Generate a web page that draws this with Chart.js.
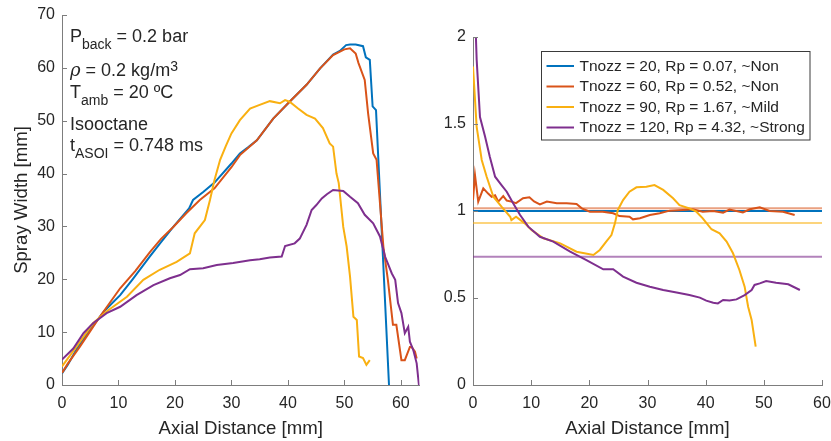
<!DOCTYPE html>
<html><head><meta charset="utf-8">
<script src="https://cdn.jsdelivr.net/npm/chart.js@4.4.0/dist/chart.umd.min.js"></script>
<style>
html,body{margin:0;padding:0;background:#fff;width:831px;height:441px;overflow:hidden}
#c1{position:absolute;left:0;top:0}
#c2{position:absolute;left:430px;top:0}
</style></head><body>
<canvas id="c1" width="430" height="441"></canvas>
<canvas id="c2" width="401" height="441"></canvas>
<script>
// ---------- DATA ----------
const seriesNames = ['Tnozz = 20, Rp = 0.07, ~Non','Tnozz = 60, Rp = 0.52, ~Non','Tnozz = 90, Rp = 1.67, ~Mild','Tnozz = 120, Rp = 4.32, ~Strong'];
const xTicks = [0,10,20,30,40,50,60];
const leftYTicks = [0,10,20,30,40,50,60,70];
const rightYTicks = [0,0.5,1,1.5,2];

// Left: spray width [mm] vs axial distance [mm]
const wBlueX = [0,1,2.6,5,7.5,10.3,12.5,15.6,17.5,19.7,22.5,23.2,25,27,30,31.5,33,34.5,37.4,40.3,43.3,45.7,48,49.2,50.3,51,52,53.3,53.8,54.5,55.0,55.6,57.9];
const wBlueY = [2.2,3.8,6.8,10.5,14,17.0,20,24.4,27,29.9,33.4,35,36.5,38.3,41.9,43.8,45.0,46.3,50.4,53.6,56.8,59.9,62.5,63.2,64.3,64.4,64.4,64.1,62.0,61.5,52.7,52.0,0];
const wOrangeX = [0,1,3.2,5,6.7,8.5,10.3,13,15.6,17.5,19.7,22,24.4,27,30,31.5,34.5,37.4,40.3,43.3,45.7,48,50,51,52,52.5,53.6,54.2,55.1,55.7,56.9,57.7,58.6,59.2,60.1,60.7,61.6,61.9,62.5,62.8];
const wOrangeY = [2.3,4.0,7.3,10.2,12.9,15.6,18.3,21.6,25.2,27.6,29.9,32.5,35.0,37.2,41.2,43.5,46.3,50.4,53.6,56.8,59.9,62.4,63.5,63.7,62.7,60.9,57.7,51.4,43.8,42.6,26.2,19.9,11.4,11.4,4.7,4.7,7.2,7.2,6.3,5.0];
const wYellowX = [0,0.2,2.6,5.5,8,11.5,14.4,17.3,20.3,22.65,23.5,25.3,26.2,27,28,29,30,31.5,33.3,35,36.8,38.6,39.5,40.3,41.8,43.3,44.8,46.2,47.4,48.0,48.6,49.0,49.8,50.4,51.0,51.6,52.2,52.6,53.3,53.9,54.5];
const wYellowY = [3.5,3.8,7.3,11.7,14.0,16.7,19.9,21.8,23.3,24.9,28.7,31.2,35.0,38.8,42.6,45.2,47.6,50.1,52.3,53.0,53.7,53.3,53.9,53.6,52.3,51.1,50.4,48.6,45.7,45.1,40.0,38.2,29.9,26.2,20.5,12.9,12.3,5.4,5.1,3.8,4.7];
const wPurpleX = [0,2.0,3.8,5.5,7.9,10.3,13.2,16.2,19.1,20.9,22.65,25.0,27.4,30.3,33.3,35.0,36.8,38.9,39.5,41.2,42.1,43.3,44.2,45.0,46.0,46.9,48.0,49.8,51.0,52.4,53.6,55.1,56.3,57.2,58.4,59.0,59.5,60.1,60.7,61.3,61.6,62.2,62.8,63.2];
const wPurpleY = [4.8,6.9,9.8,11.7,13.6,14.8,17.0,18.9,20.2,20.8,21.9,22.1,22.7,23.1,23.6,23.8,24.1,24.3,26.3,26.8,27.7,30.3,33.1,34.0,35.3,36.1,36.9,36.7,35.6,34.4,32.2,30.6,28.1,24.3,21.1,19.9,15.5,13.6,9.8,11.0,8.2,6.6,4.1,0];

// Right: width ratio vs axial distance
const rBlueX = [0,60];
const rBlueY = [1.0,1.0];
const rOrangeX = [0,0.34,0.9,1.77,2.6,3.2,3.8,4.35,5.2,5.8,6.6,7.4,8.6,9.7,10.5,11.5,12.7,14.4,16.1,17.8,18.7,20.1,22.3,24.1,25.2,26.9,27.5,28.7,30.4,32.1,33.8,36.1,37.8,39.5,41.3,43,44.1,46.4,47.6,49.3,51.0,53.3,55.3];
const rOrangeY = [1.063,1.207,1.054,1.13,1.1,1.082,1.09,1.054,1.086,1.06,1.054,1.045,1.073,1.079,1.055,1.038,1.054,1.044,1.044,1.04,1.015,0.996,0.996,0.987,0.971,0.967,0.952,0.958,0.977,0.987,1.002,1.006,1.01,0.996,1.0,0.99,1.008,0.992,1.01,1.021,1.0,0.996,0.977];
const rYellowX = [0,0.63,1.5,2.35,3.5,4.9,6.4,6.6,7.4,8.9,10.1,12.1,15.0,17.8,20.7,21.8,22.9,23.8,24.4,24.9,25.8,26.9,28.1,29.8,31.2,32.7,34.4,35.5,37.2,38.4,39.5,41.0,42.4,43.6,44.7,45.8,46.7,47.3,47.9,48.6];
const rYellowY = [1.83,1.484,1.293,1.197,1.082,1.025,0.967,0.948,0.967,0.929,0.89,0.843,0.814,0.766,0.747,0.776,0.824,0.862,0.929,1.006,1.063,1.111,1.136,1.14,1.149,1.121,1.073,1.034,1.015,0.996,0.958,0.895,0.872,0.824,0.757,0.661,0.565,0.45,0.374,0.22];
const rPurpleX = [0.4,0.63,1.2,2.06,2.9,3.8,4.9,5.8,6.9,8.1,9.5,11.5,13.8,16.7,19.5,22.4,24.1,25.8,28.1,30.4,32.7,35.0,37.2,39.0,40.1,41.3,42.1,43.0,44.1,45.3,46.7,47.9,48.4,49.3,50.4,52.1,54.2,56.2];
const rPurpleY = [2.1,1.87,1.54,1.43,1.31,1.197,1.149,1.111,1.044,0.977,0.91,0.852,0.824,0.766,0.718,0.665,0.665,0.623,0.588,0.565,0.546,0.531,0.517,0.502,0.485,0.473,0.469,0.489,0.485,0.492,0.517,0.546,0.575,0.584,0.598,0.588,0.579,0.546];
// mean ratio (horizontal reference lines)
const meanRatios = [1.0, 1.016, 0.931, 0.737];

// ---------- STYLE ----------
const FONT = '"Liberation Sans", Arial, Helvetica, sans-serif';
const TXT = '#262626';
const AXIS = '#7d7d7d';
const COLORS = ['#0072BD','#D95319','#F9B011','#7E2F8E'];
const LIGHT = ['rgba(0,114,189,0.85)','rgba(217,83,25,0.55)','rgba(249,176,17,0.55)','rgba(126,47,142,0.6)'];
Chart.defaults.font.family = FONT;
Chart.defaults.color = TXT;

const pts = (xs, ys) => xs.map((x,i)=>({x, y: ys[i]}));

const inTicks = {
  id: 'inTicks',
  afterDraw(chart) {
    const {ctx, chartArea: a} = chart;
    const xs = chart.scales.x, ys = chart.scales.y;
    ctx.save();
    ctx.strokeStyle = AXIS; ctx.lineWidth = 1;
    xs.ticks.forEach(t => {
      const p = Math.round(xs.getPixelForValue(t.value)) + 0.5;
      ctx.beginPath(); ctx.moveTo(p, a.bottom); ctx.lineTo(p, a.bottom - 5); ctx.stroke();
    });
    ys.ticks.forEach(t => {
      const p = Math.round(ys.getPixelForValue(t.value)) + 0.5;
      ctx.beginPath(); ctx.moveTo(a.left, p); ctx.lineTo(a.left + 5, p); ctx.stroke();
    });
    ctx.restore();
  }
};

function makeScales(xmax, ymax, yticks, yTitle, yWidth) {
  return {
    x: {
      type: 'linear', min: 0, max: xmax,
      afterBuildTicks: s => { s.ticks = xTicks.filter(v => v <= xmax).map(v => ({value: v})); },
      ticks: { font: {size: 16}, color: TXT, padding: 9, includeBounds: false, callback: v => String(+v) },
      grid: { display: false, drawTicks: false },
      border: { display: true, color: AXIS, width: 1 },
      title: { display: true, text: 'Axial Distance [mm]', font: {size: 18.6}, color: TXT, padding: {top: 0, bottom: 1} },
      afterFit: s => { s.height = 56; s.paddingLeft = 0; s.paddingRight = 0; }
    },
    y: {
      type: 'linear', min: 0, max: ymax,
      afterBuildTicks: s => { s.ticks = yticks.map(v => ({value: v})); },
      ticks: { font: {size: 16}, color: TXT, padding: 7, includeBounds: false, callback: v => String(+v) },
      grid: { display: false, drawTicks: false },
      border: { display: true, color: AXIS, width: 1 },
      title: { display: !!yTitle, text: yTitle || '', font: {size: 18.6}, color: TXT, padding: {top: 11, bottom: 0} },
      afterFit: s => { s.width = yWidth; s.paddingTop = 0; s.paddingBottom = 0; }
    }
  };
}

function curve(xs, ys, i, extra) {
  return Object.assign({
    data: pts(xs, ys), borderColor: COLORS[i], backgroundColor: COLORS[i],
    borderWidth: 2, pointRadius: 0, showLine: true, fill: false, tension: 0,
    order: 10 - i, legendIndex: i
  }, extra || {});
}

// ---------- annotation (left) ----------
const annLines = [
  [['P',''],['back','sub'],[' = 0.2 bar','']],
  [['\u03C1','it'],[' = 0.2 kg/m',''],['3','sup']],
  [['T',''],['amb','sub'],[' = 20 \u00BAC','']],
  [['Isooctane','']],
  [['t',''],['ASOI','sub'],[' = 0.748 ms','']]
];
const annotate = {
  id: 'annotate',
  afterDraw(chart) {
    const ctx = chart.ctx;
    const baselines = [41.5, 76, 98, 130, 151];
    ctx.save();
    ctx.fillStyle = TXT; ctx.textBaseline = 'alphabetic'; ctx.textAlign = 'left';
    annLines.forEach((parts, li) => {
      let x = 70;
      const yb = baselines[li];
      parts.forEach(([t, kind]) => {
        let y = yb;
        if (kind === 'sub') { ctx.font = '14px ' + FONT; y = yb + 7; }
        else if (kind === 'sup') { ctx.font = '14px ' + FONT; y = yb - 5; }
        else if (kind === 'it') { ctx.font = 'italic 18px "DejaVu Serif", serif'; }
        else { ctx.font = '18px ' + FONT; }
        ctx.fillText(t, x, y);
        x += ctx.measureText(t).width;
      });
    });
    ctx.restore();
  }
};

// ---------- legend (right) ----------
const boxLegend = {
  id: 'boxLegend',
  afterDraw(chart) {
    const ctx = chart.ctx;
    const bx = 111.5, by = 51.5, bw = 268.5, bh = 88.5;
    ctx.save();
    ctx.fillStyle = '#fff';
    ctx.fillRect(bx, by, bw, bh);
    ctx.strokeStyle = '#3a3a3a'; ctx.lineWidth = 1;
    ctx.strokeRect(bx, by, bw, bh);
    const items = chart.data.datasets.filter(d => d.legendIndex !== undefined)
      .sort((a,b) => a.legendIndex - b.legendIndex);
    ctx.font = '15.5px ' + FONT; ctx.textBaseline = 'middle'; ctx.fillStyle = TXT;
    items.forEach((d, i) => {
      const y = 66 + i * 20.5;
      ctx.strokeStyle = d.borderColor; ctx.lineWidth = 2;
      ctx.beginPath(); ctx.moveTo(116.5, y); ctx.lineTo(144, y); ctx.stroke();
      ctx.fillText(seriesNames[d.legendIndex], 149.5, y + 0.5);
    });
    ctx.restore();
  }
};

// ---------- charts ----------
new Chart(document.getElementById('c1'), {
  type: 'scatter',
  data: { datasets: [
    curve(wBlueX, wBlueY, 0), curve(wOrangeX, wOrangeY, 1),
    curve(wYellowX, wYellowY, 2), curve(wPurpleX, wPurpleY, 3)
  ]},
  options: {
    responsive: false, animation: false, devicePixelRatio: 1,
    layout: { padding: {left: 0, right: 10.5, top: 15, bottom: 0} },
    plugins: { legend: {display: false}, tooltip: {enabled: false} },
    scales: makeScales(63.3, 70, leftYTicks, 'Spray Width [mm]', 62)
  },
  plugins: [inTicks, annotate]
});

const meanDs = meanRatios.map((m, i) => ({
  data: pts([0, 60], [m, m]), borderColor: LIGHT[i], borderWidth: 2,
  pointRadius: 0, showLine: true, fill: false, order: 20 + i
}));

new Chart(document.getElementById('c2'), {
  type: 'scatter',
  data: { datasets: [
    ...meanDs,
    curve(rBlueX, rBlueY, 0), curve(rOrangeX, rOrangeY, 1),
    curve(rYellowX, rYellowY, 2), curve(rPurpleX, rPurpleY, 3)
  ]},
  options: {
    responsive: false, animation: false, devicePixelRatio: 1,
    layout: { padding: {left: 0, right: 9, top: 37, bottom: 0} },
    plugins: { legend: {display: false}, tooltip: {enabled: false} },
    scales: makeScales(60, 2, rightYTicks, null, 43)
  },
  plugins: [inTicks, boxLegend]
});
</script>
</body></html>
